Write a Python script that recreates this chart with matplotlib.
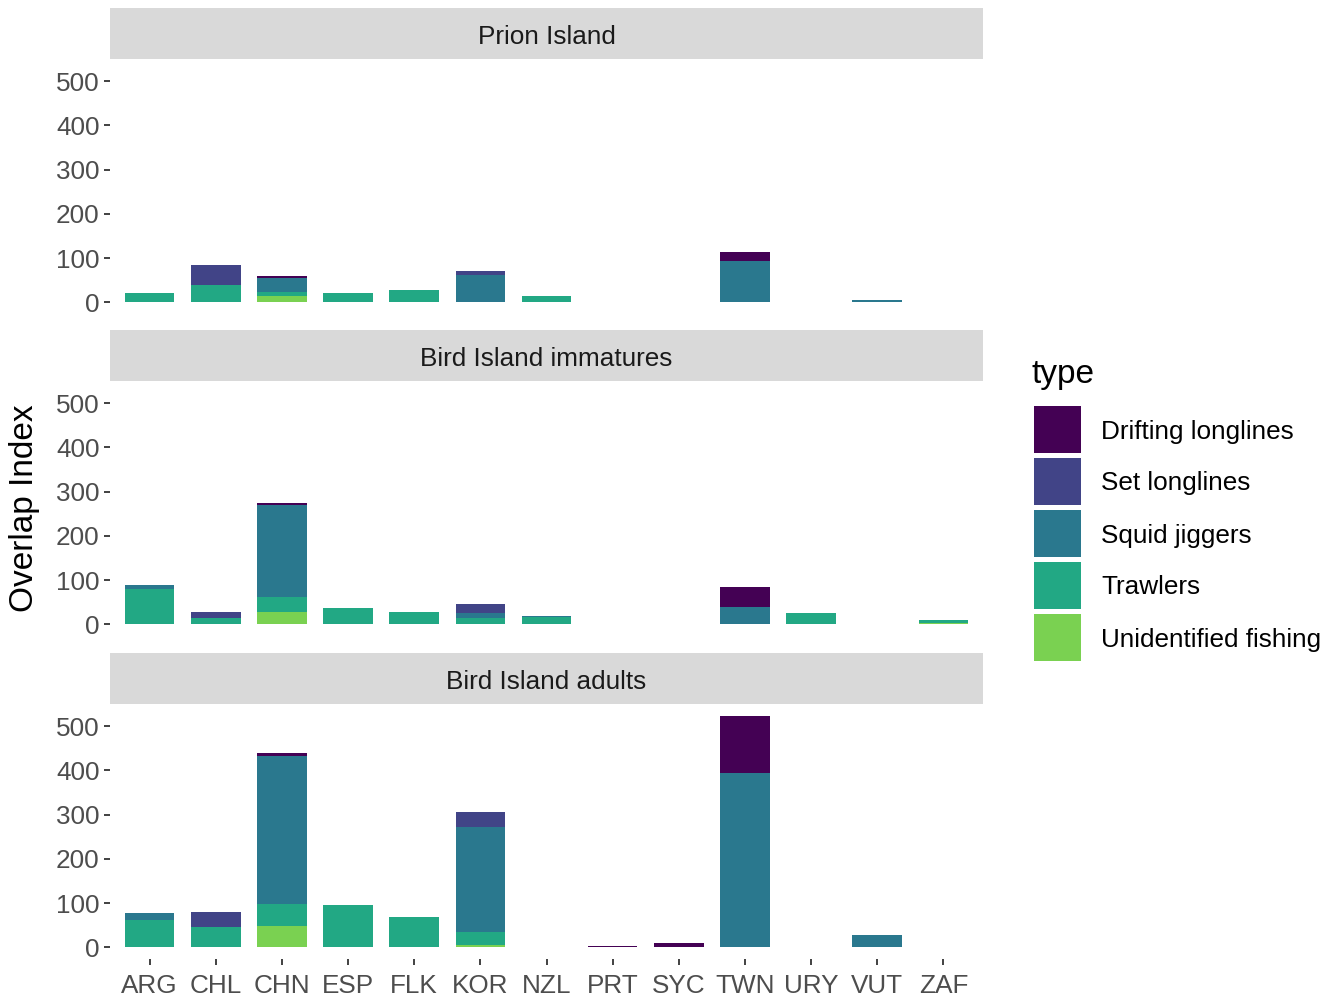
import numpy as np
import matplotlib
matplotlib.use("Agg")
import matplotlib.pyplot as plt
from matplotlib.patches import Rectangle

plt.rcParams['font.family'] = ['Liberation Sans', 'DejaVu Sans']

countries = ["ARG", "CHL", "CHN", "ESP", "FLK", "KOR", "NZL",
             "PRT", "SYC", "TWN", "URY", "VUT", "ZAF"]
types = ["Drifting longlines", "Set longlines", "Squid jiggers",
         "Trawlers", "Unidentified fishing"]
colors = ["#440154", "#414487", "#2A788E", "#22A884", "#7AD151"]
panels = ["Prion Island", "Bird Island immatures", "Bird Island adults"]

# Overlap index per country, one list per fishing type
prion_drifting = [0, 0, 4, 0, 0, 0, 0, 0, 0, 21, 0, 0, 0]
prion_set      = [0, 46, 0, 0, 0, 10, 0, 0, 0, 0, 0, 0, 0]
prion_squid    = [0, 0, 32, 0, 0, 62, 0, 0, 0, 93, 0, 6, 0]
prion_trawl    = [22, 38, 10, 22, 27, 0, 14, 0, 0, 0, 0, 0, 0]
prion_unid     = [0, 1, 14, 0, 0, 0, 0, 0, 0, 0, 0, 0, 0]

imm_drifting = [0, 0, 4.5, 0, 0, 0, 0, 0, 0, 44, 0, 0, 0]
imm_set      = [0, 14, 0, 0, 1.5, 21, 0, 0, 0, 0, 0, 0, 0]
imm_squid    = [10, 0, 209, 0, 0, 12, 2, 0, 0, 40, 0, 0, 0]
imm_trawl    = [79, 15, 33, 37, 27, 14, 16, 0, 0, 0, 25, 0, 7]
imm_unid     = [0, 0, 28, 0, 0, 0, 0, 0, 0, 0, 0, 0, 4]

adult_drifting = [0, 0, 8, 0, 0, 0, 0, 2.5, 9, 130, 0, 0, 0]
adult_set      = [0, 33, 0, 0, 0, 32, 0, 0, 0, 0, 0, 0, 0]
adult_squid    = [14, 0, 334, 0, 0, 239, 0, 0, 0, 394, 0, 27, 0]
adult_trawl    = [63, 45, 50, 96, 69, 29, 0, 0, 0, 0, 0, 0, 0]
adult_unid     = [0, 2, 48, 0, 0, 5, 0, 0, 0, 0, 0, 0, 0]

panel_data = [
    [prion_drifting, prion_set, prion_squid, prion_trawl, prion_unid],
    [imm_drifting, imm_set, imm_squid, imm_trawl, imm_unid],
    [adult_drifting, adult_set, adult_squid, adult_trawl, adult_unid],
]

W, H = 1333, 999
fig = plt.figure(figsize=(W / 100, H / 100), dpi=100)

# shared y range with 5% padding (fixed scales across facets)
totals = [np.sum(np.array(d), axis=0) for d in panel_data]
ymax = max(t.max() for t in totals)
pad = 0.05 * ymax
ylim = (-pad, ymax + pad)
x = np.arange(len(countries))

def fx(px):
    return px / W

def fy(py):
    return 1 - py / H

left_px, right_px = 110, 983
panel_tops = [59, 381, 704]
panel_h = 255
strip_h = 51

tick_col = "#333333"
lab_col = "#4D4D4D"
tick_fs = 18.8
title_fs = 24

for i, (name, series) in enumerate(zip(panels, panel_data)):
    top = panel_tops[i]
    ax = fig.add_axes([fx(left_px), fy(top + panel_h),
                       fx(right_px - left_px), panel_h / H])
    # stack from bottom: last type at base, first type on top
    bottom = np.zeros(len(countries))
    for t_idx in range(len(types) - 1, -1, -1):
        vals = np.array(series[t_idx], dtype=float)
        ax.bar(x, vals, width=0.75, bottom=bottom, color=colors[t_idx],
               linewidth=0)
        bottom += vals
    ax.set_xlim(-0.6, len(countries) - 1 + 0.6)
    ax.set_ylim(*ylim)
    ax.set_yticks([0, 100, 200, 300, 400, 500])
    for s in ax.spines.values():
        s.set_visible(False)
    ax.tick_params(axis='y', length=4.5, width=1.3, color=tick_col,
                   labelsize=tick_fs, labelcolor=lab_col, pad=3)
    if i == 2:
        ax.set_xticks(x)
        ax.set_xticklabels(countries)
        ax.tick_params(axis='x', length=4.5, width=1.3, color=tick_col,
                       labelsize=tick_fs, labelcolor=lab_col, pad=6)
    else:
        ax.set_xticks([])

    # facet strip
    sax = fig.add_axes([fx(left_px), fy(top), fx(right_px - left_px),
                        (strip_h) / H])
    sax.set_facecolor("#D9D9D9")
    sax.set_xticks([])
    sax.set_yticks([])
    for s in sax.spines.values():
        s.set_visible(False)
    sax.text(0.5, 0.44, name, ha='center', va='center', fontsize=tick_fs,
             color="#1A1A1A", transform=sax.transAxes)

fig.text(fx(25), fy(508), "Overlap Index", rotation=90, ha='center',
         va='center', fontsize=title_fs, color="black")

# legend
fig.text(fx(1032), fy(375), "type", ha='left', va='center',
         fontsize=title_fs, color="black")
key_w, key_h, key_step = 47, 47, 52
key_top0 = 406
for k, (lab, col) in enumerate(zip(types, colors)):
    ktop = key_top0 + k * key_step
    fig.add_artist(Rectangle((fx(1034), fy(ktop + key_h)), fx(key_w),
                             key_h / H, transform=fig.transFigure,
                             facecolor=col, edgecolor='none'))
    fig.text(fx(1101), fy(ktop + key_h / 2 + 2), lab, ha='left',
             va='center', fontsize=tick_fs, color="black")

fig.savefig("out.png", dpi=100, facecolor='white')
